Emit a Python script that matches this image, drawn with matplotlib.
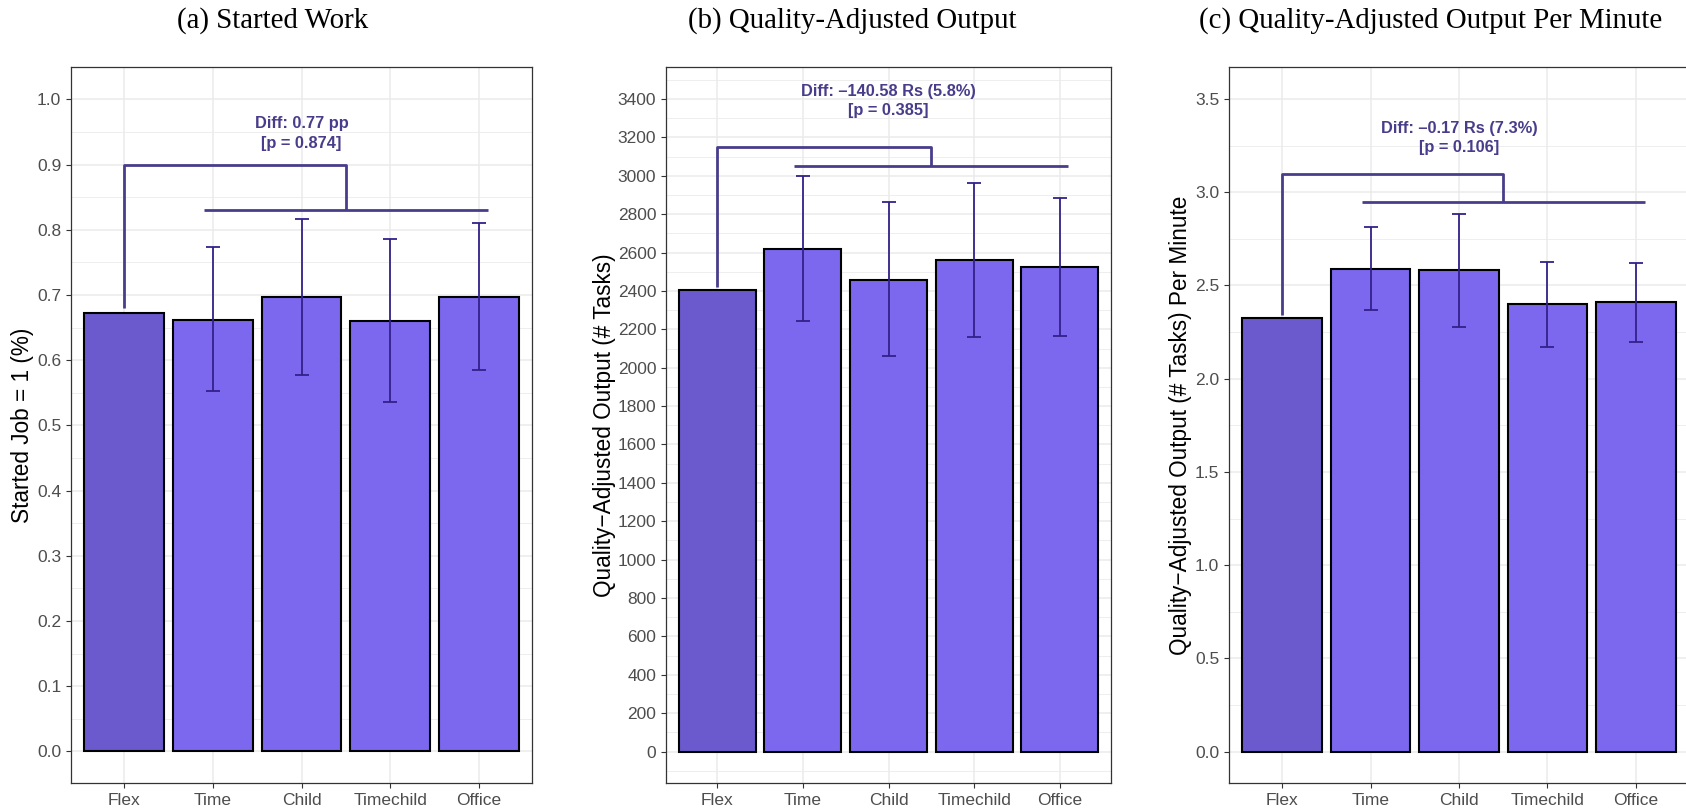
import numpy as np
import matplotlib
matplotlib.use('Agg')
import matplotlib.pyplot as plt
from matplotlib.ticker import MultipleLocator, FormatStrFormatter

# data
categories = ['Flex', 'Time', 'Child', 'Timechild', 'Office']

started_mean = [0.672, 0.662, 0.697, 0.660, 0.697]
started_lo = [np.nan, 0.552, 0.577, 0.536, 0.585]
started_hi = [np.nan, 0.773, 0.816, 0.785, 0.810]

output_mean = [2405, 2620, 2459, 2561, 2526]
output_lo = [np.nan, 2243, 2059, 2158, 2165]
output_hi = [np.nan, 2999, 2862, 2964, 2884]

permin_mean = [2.327, 2.590, 2.583, 2.399, 2.410]
permin_lo = [np.nan, 2.367, 2.279, 2.172, 2.197]
permin_hi = [np.nan, 2.815, 2.884, 2.626, 2.622]

titles = ['(a) Started Work', '(b) Quality-Adjusted Output',
          '(c) Quality-Adjusted Output Per Minute']
ylabels = ['Started Job = 1 (%)', 'Quality\u2212Adjusted Output (# Tasks)',
           'Quality\u2212Adjusted Output (# Tasks) Per Minute']
diff_labels = ['Diff: 0.77 pp\n[p = 0.874]',
               'Diff: \u2013140.58 Rs (5.8%)\n[p = 0.385]',
               'Diff: \u20130.17 Rs (7.3%)\n[p = 0.106]']

# colours
FLEX_COL = '#6A5ACD'
OTHER_COL = '#7B68EE'
ERR_COL = '#33218A'
BRACKET_COL = '#483D8B'
GRID_COL = '#EBEBEB'

plt.rcParams['font.family'] = ['Liberation Sans', 'DejaVu Sans']

W, H = 1686, 811
fig = plt.figure(figsize=(W / 100, H / 100), dpi=100)

# panel layout in pixels: left, right, title centre, ylabel centre
top_px, bottom_px = 66.7, 783.3
panels = [
    dict(left=71, right=532, title_x=272.5, ylab_x=22.7,
         ylim=(-0.049, 1.05), major=0.1, minor=0.05, fmt='%.1f',
         start=0.68, top=0.90, low=0.83, text_y=0.9475),
    dict(left=666, right=1111, title_x=852.3, ylab_x=604,
         ylim=(-165, 3568), major=200, minor=100, fmt='%d',
         start=2419, top=3150, low=3050, text_y=3390),
    dict(left=1229, right=1689, title_x=1430.5, ylab_x=1180,
         ylim=(-0.170, 3.673), major=0.5, minor=0.25, fmt='%.1f',
         start=2.34, top=3.10, low=2.95, text_y=3.29),
]
means = [started_mean, output_mean, permin_mean]
los = [started_lo, output_lo, permin_lo]
his = [started_hi, output_hi, permin_hi]

x = np.arange(1, len(categories) + 1)
colors = [FLEX_COL] + [OTHER_COL] * (len(categories) - 1)

for i, p in enumerate(panels):
    ax = fig.add_axes([p['left'] / W, 1 - bottom_px / H,
                       (p['right'] - p['left']) / W, (bottom_px - top_px) / H])
    m = np.array(means[i], dtype=float)
    lo = np.array(los[i], dtype=float)
    hi = np.array(his[i], dtype=float)

    ax.bar(x, m, width=0.9, color=colors, edgecolor='black', linewidth=1.5, zorder=2)
    ax.errorbar(x, m, yerr=[m - lo, hi - m], fmt='none', ecolor=ERR_COL,
                elinewidth=1.3, capsize=5.2, capthick=1.3, zorder=3)

    # comparison bracket
    ax.plot([1, 1, 3.5, 3.5], [p['start'], p['top'], p['top'], p['low']],
            color=BRACKET_COL, lw=2, solid_capstyle='butt', zorder=4)
    ax.plot([1.9, 5.1], [p['low'], p['low']], color=BRACKET_COL, lw=2,
            solid_capstyle='butt', zorder=4)
    ax.text(3, p['text_y'], diff_labels[i], ha='center', va='center',
            color=BRACKET_COL, fontweight='bold', fontsize=11.8, linespacing=1.35)

    ax.set_xlim(0.4, 5.6)
    ax.set_ylim(*p['ylim'])
    ax.set_xticks(x)
    ax.set_xticklabels(categories)
    ax.yaxis.set_major_locator(MultipleLocator(p['major']))
    ax.yaxis.set_minor_locator(MultipleLocator(p['minor']))
    ax.yaxis.set_major_formatter(FormatStrFormatter(p['fmt']))

    ax.grid(which='major', color=GRID_COL, lw=1.1, zorder=0)
    ax.grid(which='minor', axis='y', color=GRID_COL, lw=0.6, zorder=0)
    ax.set_axisbelow(True)
    ax.tick_params(which='major', length=3.6, width=0.8, color='#333333',
                   labelsize=12.5, labelcolor='#4D4D4D', pad=3.4)
    ax.tick_params(which='minor', length=0)
    for s in ax.spines.values():
        s.set_color('#333333')
        s.set_linewidth(0.9)

    ax.set_ylabel(ylabels[i], fontsize=16.3, color='black')
    ax.yaxis.set_label_coords(p['ylab_x'] / W, 1 - (top_px + bottom_px) / 2 / H,
                              transform=fig.transFigure)
    ax.yaxis.label.set_va('center')

    fig.text(p['title_x'] / W, 1 - 20.8 / H, titles[i], ha='center', va='center',
             fontfamily='Liberation Serif', fontsize=20.8)

fig.savefig('out.png', dpi=100)
